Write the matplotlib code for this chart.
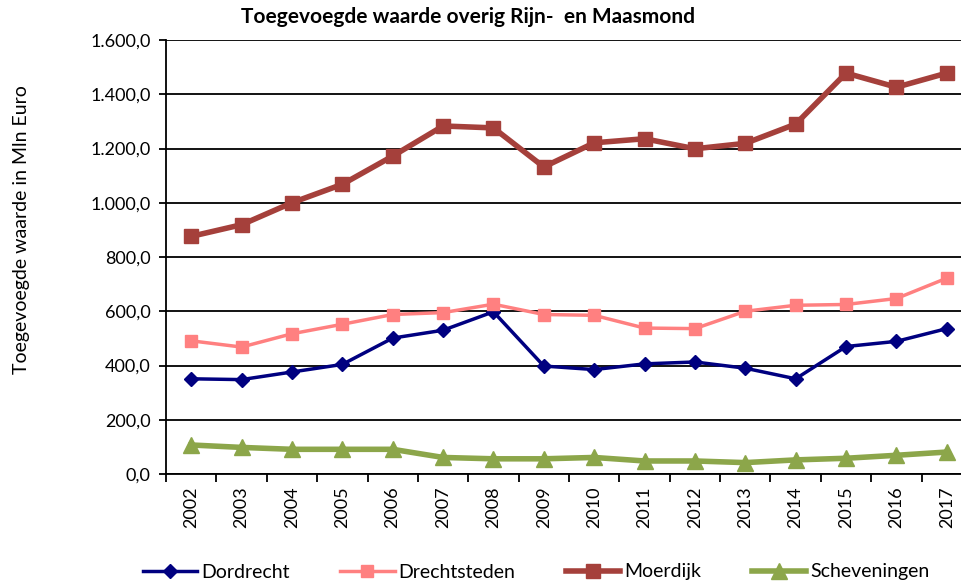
import matplotlib.pyplot as plt
import numpy as np

plt.rcParams['font.family'] = ['Lato', 'DejaVu Sans']

years = [str(y) for y in range(2002, 2018)]
dordrecht = [351, 348, 376, 404, 501, 530, 598, 398, 385, 406, 413, 390, 351, 470, 489, 536]
drechtsteden = [491, 468, 517, 552, 588, 595, 626, 588, 585, 538, 536, 600, 622, 625, 647, 722]
moerdijk = [876, 919, 1000, 1068, 1172, 1283, 1276, 1132, 1221, 1236, 1199, 1219, 1290, 1478, 1426, 1478]
scheveningen = [107, 98, 91, 91, 91, 61, 56, 56, 61, 48, 48, 42, 52, 58, 69, 81]

fig = plt.figure(figsize=(9.62, 5.87), dpi=100)
ax = fig.add_axes([166/962, 113/587, 806/962, 434/587])

x = np.arange(len(years))
ax.plot(x, dordrecht, color='#000080', lw=2.5, marker='D', ms=7, label='Dordrecht')
ax.plot(x, drechtsteden, color='#FF8080', lw=2.5, marker='s', ms=9, label='Drechtsteden')
ax.plot(x, moerdijk, color='#A5403B', lw=4, marker='s', ms=10, label='Moerdijk')
ax.plot(x, scheveningen, color='#8CA64A', lw=4, marker='^', ms=11, label='Scheveningen')

ax.set_xlim(-0.5, len(years) - 0.5)
ax.set_ylim(0, 1600)
yt = np.arange(0, 1601, 200)
ax.set_yticks(yt)
ax.set_yticklabels([f"{v:,.1f}".replace(',', 'X').replace('.', ',').replace('X', '.') for v in yt], fontsize=13)
ax.yaxis.grid(True, color='black', lw=1.3)
ax.set_axisbelow(True)

ax.set_xticks(x)
ax.set_xticklabels(years, rotation=90, fontsize=13)
ax.set_xticks(np.arange(-0.5, len(years), 1), minor=True)
ax.tick_params(axis='x', which='major', length=0, pad=9)
ax.tick_params(axis='x', which='minor', length=6, width=1.3, direction='out')
ax.tick_params(axis='y', length=5, width=1.3, direction='out', pad=6)

for s in ['top', 'right']:
    ax.spines[s].set_visible(False)
for s in ['left', 'bottom']:
    ax.spines[s].set_linewidth(1.3)

fig.text(22/962, 1 - 230/587, 'Toegevoegde waarde in Mln Euro', rotation=90,
         ha='center', va='center', fontsize=14)

fig.text(468/962, 1 - 17/587, 'Toegevoegde waarde overig Rijn-  en Maasmond',
         ha='center', va='center', fontsize=15, fontweight='bold')

fig.legend(loc='center', bbox_to_anchor=(536/962, 1 - 572/587), ncol=4, frameon=False,
           fontsize=14, handlelength=2.8, columnspacing=2.6, handletextpad=0.2)

fig.savefig('out.png', dpi=100)
